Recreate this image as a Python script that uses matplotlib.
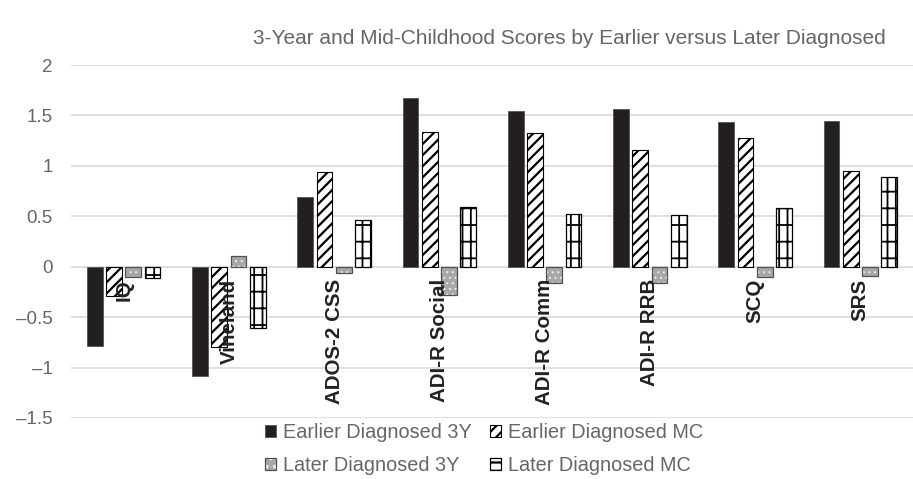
import numpy as np
import matplotlib
matplotlib.use('Agg')
import matplotlib.pyplot as plt
from matplotlib.patches import Patch
from matplotlib.legend_handler import HandlerTuple

plt.rcParams['font.family'] = ['Liberation Sans', 'DejaVu Sans']
plt.rcParams['hatch.linewidth'] = 1.6

categories = ['IQ', 'Vineland', 'ADOS-2 CSS', 'ADI-R Social', 'ADI-R Comm',
              'ADI-R RRB', 'SCQ', 'SRS']
earlier_3y = [-0.79, -1.08, 0.69, 1.67, 1.54, 1.565, 1.43, 1.44]
earlier_mc = [-0.29, -0.80, 0.94, 1.34, 1.33, 1.16, 1.28, 0.95]
later_3y = [-0.10, 0.11, -0.06, -0.28, -0.16, -0.16, -0.10, -0.09]
later_mc = [-0.11, -0.61, 0.46, 0.59, 0.52, 0.51, 0.58, 0.885]
yticks = [-1.5, -1, -0.5, 0, 0.5, 1, 1.5, 2]
ytick_labels = ['\u20131.5', '\u20131', '\u20130.5', '0', '0.5', '1', '1.5', '2']

gray_txt = '#666666'
dot_gray = '#a8a8a8'
x = np.arange(len(categories))
w = 0.15
step = 0.183

fig = plt.figure(figsize=(9.13, 4.79), dpi=100)
ax = fig.add_axes([71/913, 1-418/479, 1-71/913, (418-65)/479])

# earlier 3Y: solid black
ax.bar(x - 1.5*step, earlier_3y, w, color='#231f20', edgecolor='#555555', lw=0.6, zorder=3)
# earlier MC: diagonal hatch
ax.bar(x - 0.5*step, earlier_mc, w, color='white', edgecolor='black', hatch='///', lw=0.8, zorder=3)
# later 3Y: gray with white dots
with plt.rc_context({'hatch.linewidth': 0.7}):
    ax.bar(x + 0.5*step, later_3y, w, color=dot_gray, edgecolor='#f0f0f0', hatch='...', lw=0, zorder=3)
    h_l3_fill = Patch(facecolor=dot_gray, edgecolor='#f0f0f0', hatch='..', lw=0)
ax.bar(x + 0.5*step, later_3y, w, fill=False, edgecolor='#505050', lw=0.9, zorder=4)
# later MC: grid hatch
with plt.rc_context({'hatch.linewidth': 1.3}):
    ax.bar(x + 1.5*step, later_mc, w, color='white', edgecolor='black', hatch='|+', lw=0.9, zorder=3)
    h_lmc = Patch(facecolor='white', edgecolor='black', hatch='--', lw=0.9)

ax.set_xlim(-0.5, len(categories) - 0.5)
ax.set_ylim(-1.5, 2)
ax.set_yticks(yticks)
ax.set_yticklabels(ytick_labels, color=gray_txt, fontsize=13.5)
ax.set_xticks([])
ax.tick_params(axis='y', length=0, pad=13)
ax.grid(axis='y', color='#d9d9d9', lw=1.2, zorder=0)
for s in ax.spines.values():
    s.set_visible(False)

for i, c in enumerate(categories):
    ax.annotate(c, (x[i], 0), xytext=(0, -9), textcoords='offset points',
                rotation=90, ha='center', va='top', fontsize=14.8,
                fontweight='bold', color='#222222', zorder=5)

fig.text(569/913, 1-38/479, '3-Year and Mid-Childhood Scores by Earlier versus Later Diagnosed',
         ha='center', va='center', fontsize=15, color=gray_txt)

h_e3 = Patch(facecolor='#231f20', edgecolor='#555555', lw=0.6)
h_emc = Patch(facecolor='white', edgecolor='black', hatch='///', lw=0.8)
h_l3 = (h_l3_fill, Patch(fill=False, edgecolor='#505050', lw=0.9))
leg = fig.legend([h_e3, h_l3, h_emc, h_lmc],
                 ['Earlier Diagnosed 3Y', 'Later Diagnosed 3Y',
                  'Earlier Diagnosed MC', 'Later Diagnosed MC'],
                 handler_map={tuple: HandlerTuple(ndivide=1, pad=0)},
                 ncol=2, loc='center', bbox_to_anchor=(484/913, 1-449/479),
                 frameon=False, fontsize=14.3, handlelength=0.55, handleheight=0.55,
                 handletextpad=0.35, columnspacing=0.9, labelspacing=0.75,
                 borderpad=0)
for t in leg.get_texts():
    t.set_color(gray_txt)

fig.savefig('out.png', dpi=100)
